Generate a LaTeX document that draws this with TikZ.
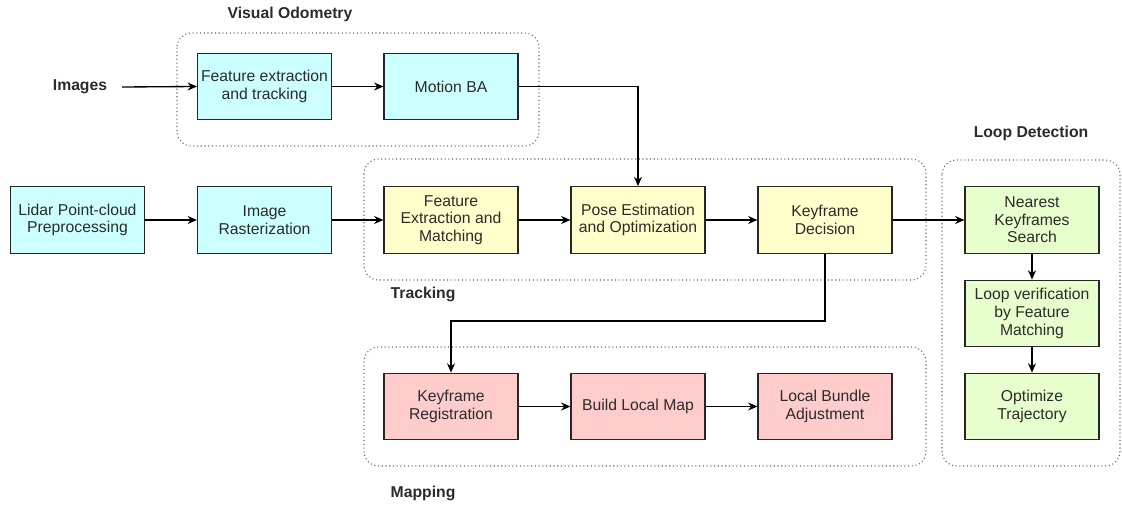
\documentclass[tikz,border=0pt]{standalone}
\usepackage{fontspec}
\setmainfont{Liberation Sans}
\usepackage{tikz}
\usetikzlibrary{arrows.meta}
\definecolor{vocyan}{HTML}{CCFFFF}
\definecolor{trkyel}{HTML}{FFFFCC}
\definecolor{mappink}{HTML}{FFCCCC}
\definecolor{loopgrn}{HTML}{E6FFCC}
\definecolor{txtgray}{HTML}{2B2B2B}
\definecolor{grpline}{HTML}{666666}

\begin{document}
\begin{tikzpicture}[
      x=0.75pt, y=-0.75pt,
      blk/.style={
        draw=black!85, line width=0.8pt, align=center,
        minimum width=100.5pt, minimum height=50pt,
        inner sep=1pt, text=txtgray,
        font=\fontsize{11.8}{13.2}\selectfont
      },
      grp/.style={draw=grpline, dotted, line width=0.8pt, rounded corners=11pt},
      ttl/.style={font=\fontsize{11.8}{13}\selectfont\bfseries, text=txtgray},
      flow/.style={-{Stealth[length=7pt,width=6pt]}, line width=1pt}
    ]
      \useasboundingbox (0,0) rectangle (1122,506);

      \draw[grp] (177,33) rectangle (539,146);
      \draw[grp] (364,159) rectangle (926,280);
      \draw[grp] (364,347) rectangle (926,466);
      \draw[grp] (942,160) rectangle (1120,466);

      \node[ttl] (vot) at (290,14) {Visual Odometry};
      \node[ttl, anchor=west] (trt) at (386,294) {Tracking};
      \node[ttl] (ldt) at (1031,133) {Loop Detection};
      \node[ttl, anchor=west] (mpt) at (386,493) {Mapping};

      \node[ttl, inner xsep=11pt] (img) at (80,87) {Images};
      \node[blk, fill=vocyan] (fet) at (264.5,86.5) {Feature extraction\\and tracking};
      \node[blk, fill=vocyan] (mba) at (451,86.5) {Motion BA};

      \node[blk, fill=vocyan] (lid) at (77.5,220) {Lidar Point-cloud\\Preprocessing};
      \node[blk, fill=vocyan] (ras) at (264.5,220) {Image\\Rasterization};
      \node[blk, fill=trkyel] (fem) at (451,220) {Feature\\Extraction and\\Matching};
      \node[blk, fill=trkyel] (pose) at (638,220) {Pose Estimation\\and Optimization};
      \node[blk, fill=trkyel] (kfd) at (825,220) {Keyframe\\Decision};

      \node[blk, fill=loopgrn] (nks) at (1032,220) {Nearest\\Keyframes\\Search};
      \node[blk, fill=loopgrn] (lvf) at (1032,313.5) {Loop verification\\by Feature\\Matching};
      \node[blk, fill=loopgrn] (opt) at (1032,406.5) {Optimize\\Trajectory};

      \node[blk, fill=mappink] (kfr) at (451,406.5) {Keyframe\\Registration};
      \node[blk, fill=mappink] (blm) at (638,406.5) {Build Local Map};
      \node[blk, fill=mappink] (lba) at (825,406.5) {Local Bundle\\Adjustment};

      \draw[flow] (img.east) -- (fet.west);
      \draw[flow] (fet) -- (mba);
      \draw[flow] (mba.east) -| (pose.north);
      \draw[flow] (lid) -- (ras);
      \draw[flow] (ras) -- (fem);
      \draw[flow] (fem) -- (pose);
      \draw[flow] (pose) -- (kfd);
      \draw[flow] (kfd) -- (nks);
      \draw[flow] (nks) -- (lvf);
      \draw[flow] (lvf) -- (opt);
      \draw[flow] (kfd.south) -- ++(0,67) -| (kfr.north);
      \draw[flow] (kfr) -- (blm);
      \draw[flow] (blm) -- (lba);
    \end{tikzpicture}
\end{document}
